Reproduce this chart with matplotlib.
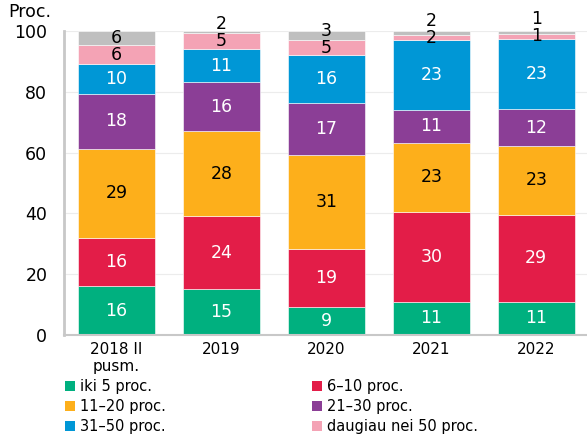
import numpy as np
import matplotlib.pyplot as plt
from matplotlib.patches import Patch

categories = ["2018 II\npusm.", "2019", "2020", "2021", "2022"]
series_names = ["iki 5 proc.", "6\u201310 proc.", "11\u201320 proc.", "21\u201330 proc.",
                "31\u201350 proc.", "daugiau nei 50 proc.", "kita"]

# segment heights (proc.)
iki5 = [16.1, 15.1, 9.2, 10.9, 10.9]
p6_10 = [15.8, 24.0, 19.1, 29.6, 28.6]
p11_20 = [29.3, 28.0, 30.9, 22.7, 22.7]
p21_30 = [18.1, 16.1, 17.1, 10.8, 12.1]
p31_50 = [9.8, 10.9, 15.8, 23.0, 23.1]
virs50 = [6.3, 5.2, 4.9, 1.7, 1.6]
kita = [4.6, 0.7, 3.0, 1.3, 1.0]

# numbers written on the bars
lab_iki5 = [16, 15, 9, 11, 11]
lab_6_10 = [16, 24, 19, 30, 29]
lab_11_20 = [29, 28, 31, 23, 23]
lab_21_30 = [18, 16, 17, 11, 12]
lab_31_50 = [10, 11, 16, 23, 23]
lab_virs50 = [6, 5, 5, 2, 1]
lab_kita = [6, 2, 3, 2, 1]

colors = ["#00b07f", "#e31d48", "#fdaf1b", "#8b3e96", "#0097d6", "#f4a3b5", "#bfbfbf"]
txtcol = ["white", "white", "black", "white", "white", "black", "black"]

data = [iki5, p6_10, p11_20, p21_30, p31_50, virs50, kita]
labels = [lab_iki5, lab_6_10, lab_11_20, lab_21_30, lab_31_50, lab_virs50, lab_kita]

plt.rcParams['font.family'] = ['DejaVu Sans']
fig = plt.figure(figsize=(5.87, 4.41), dpi=100)
ax = fig.add_axes([0.109, 0.2404, 0.894, 0.6893])

x = np.arange(len(categories))
bottom = np.zeros(len(categories))
centers = []
for vals, col in zip(data, colors):
    vals = np.array(vals)
    ax.bar(x, vals, 0.735, bottom=bottom, color=col, edgecolor="white", linewidth=0.4, zorder=2)
    centers.append(bottom + vals / 2)
    bottom = bottom + vals

for i in range(len(data)):
    for j in range(len(categories)):
        y = centers[i][j]
        if i == 6:
            y = max(y, centers[5][j] + 5.6)
        ax.text(x[j], y, str(labels[i][j]), ha="center", va="center",
                color=txtcol[i], fontsize=12.5, zorder=3)

ax.set_xlim(-0.5, 4.5)
ax.set_ylim(0, 100)
ax.set_yticks(range(0, 101, 20))
ax.set_xticks(x)
ax.set_xticklabels(categories, fontsize=11)
ax.tick_params(axis="y", labelsize=12.5, length=0, pad=12)
ax.tick_params(axis="x", length=0, pad=5)
ax.yaxis.grid(True, color="#ececec", linewidth=0.8, zorder=0)
ax.set_axisbelow(True)
for s in ["top", "right"]:
    ax.spines[s].set_visible(False)
ax.spines["left"].set_color("#c8c8c8")
ax.spines["left"].set_linewidth(2)
ax.spines["bottom"].set_color("#c8c8c8")
ax.spines["bottom"].set_linewidth(1.5)

fig.text(0.014, 0.973, "Proc.", fontsize=12.5, ha="left", va="center")

order = [0, 2, 4, 1, 3, 5]
handles = [Patch(facecolor=colors[k], edgecolor="none", label=series_names[k]) for k in order]
fig.legend(handles=handles, ncol=2, loc="upper left", bbox_to_anchor=(0.11, 0.14),
           frameon=False, fontsize=10.5, handlelength=0.7, handleheight=0.7,
           handletextpad=0.35, columnspacing=10.0, labelspacing=0.35, borderaxespad=0,
           borderpad=0)

fig.savefig("out.png", dpi=100)
